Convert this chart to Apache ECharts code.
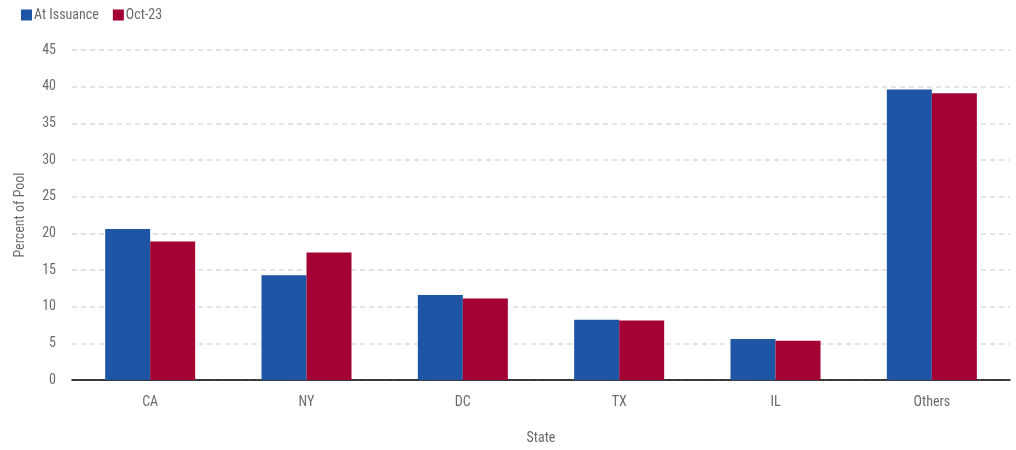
<!DOCTYPE html>
<html>
<head>
<meta charset="utf-8">
<script src="https://cdn.jsdelivr.net/npm/echarts@6/dist/echarts.min.js"></script>
<style>
  html, body { margin: 0; padding: 0; background: #fff; }
  #chart { width: 1016px; height: 450px; }
</style>
</head>
<body>
<div id="chart"></div>
<script>
// Geographic concentration of the pool by state
const states = ['CA', 'NY', 'DC', 'TX', 'IL', 'Others'];
const atIssuance = [20.6, 14.3, 11.6, 8.2, 5.6, 39.6];
const oct23 = [18.9, 17.4, 11.1, 8.1, 5.35, 39.1];
const yTicks = { min: 0, max: 45, interval: 5 };

const FONT = '"Roboto Condensed", "Roboto", sans-serif';
const TEXT = '#6b6b6b';
const SIZE = 14;

const chart = echarts.init(document.getElementById('chart'), null, { renderer: 'canvas' });
chart.setOption({
  animation: false,
  textStyle: { fontFamily: FONT },
  legend: {
    left: 16, top: 3,
    itemWidth: 11, itemHeight: 11, itemGap: 14,
    icon: 'rect',
    textStyle: { color: TEXT, fontSize: SIZE, fontFamily: FONT, padding: [0, 0, 0, -3] },
    data: ['At Issuance', 'Oct-23']
  },
  grid: { left: 72, right: 6, top: 50, bottom: 68, containLabel: false },
  xAxis: {
    type: 'category',
    data: states,
    name: 'State',
    nameLocation: 'middle',
    nameGap: 51,
    nameTextStyle: { color: TEXT, fontSize: SIZE, fontFamily: FONT },
    axisLine: { lineStyle: { color: '#000', width: 1.5 } },
    axisTick: { show: false },
    axisLabel: { color: TEXT, fontSize: SIZE, margin: 15, fontFamily: FONT }
  },
  yAxis: {
    type: 'value',
    min: yTicks.min, max: yTicks.max, interval: yTicks.interval,
    name: 'Percent of Pool',
    nameLocation: 'middle',
    nameGap: 45,
    nameRotate: 90,
    nameTextStyle: { color: TEXT, fontSize: SIZE, fontFamily: FONT },
    axisLine: { show: false },
    axisTick: { show: false },
    axisLabel: { color: TEXT, fontSize: SIZE, margin: 16, fontFamily: FONT },
    splitLine: { lineStyle: { color: '#dcdcdc', type: [5, 4], width: 1.5 } }
  },
  series: [
    {
      name: 'At Issuance', type: 'bar', data: atIssuance,
      barWidth: 45, barGap: '0%',
      itemStyle: { color: '#1f55a5' }
    },
    {
      name: 'Oct-23', type: 'bar', data: oct23,
      barWidth: 45,
      itemStyle: { color: '#a30034' }
    }
  ]
});
</script>
</body>
</html>
